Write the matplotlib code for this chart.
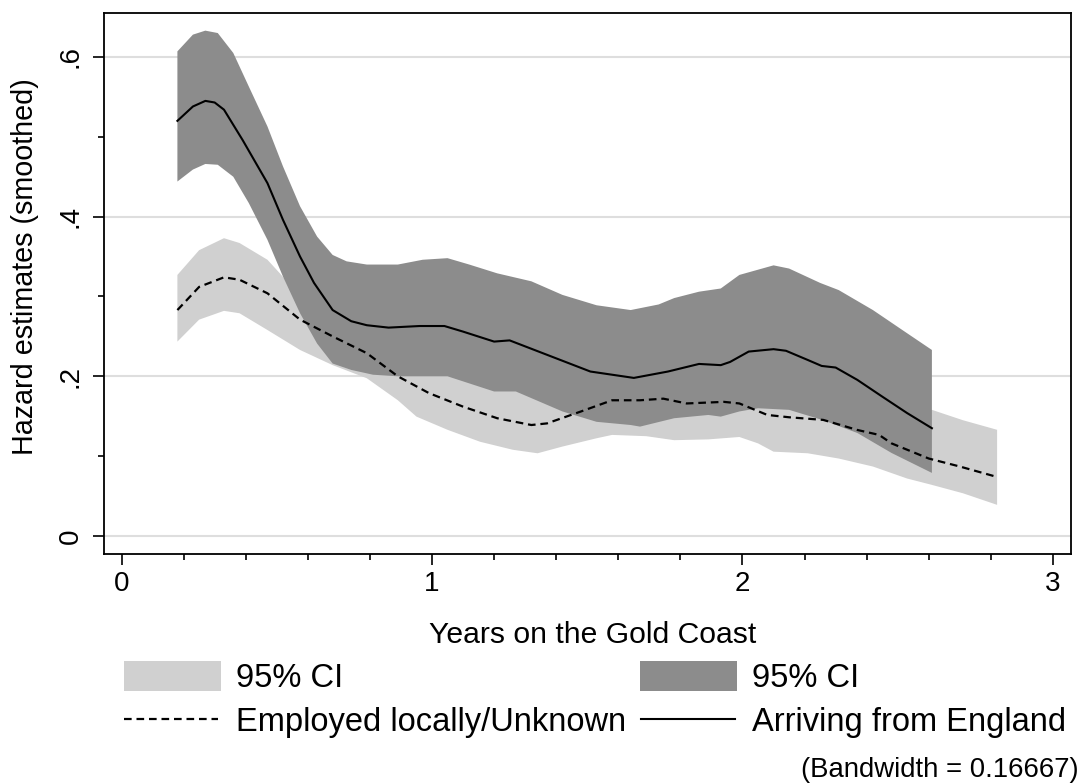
import numpy as np
import matplotlib
matplotlib.use("Agg")
import matplotlib.pyplot as plt
from matplotlib.patches import Rectangle
from matplotlib.lines import Line2D

# ---- smoothed hazard estimates -------------------------------------------
# Arriving from England: estimate and 95% CI
eng_x = [0.18, 0.23, 0.27, 0.30, 0.33, 0.39, 0.47, 0.52, 0.575, 0.62, 0.68, 0.74,
         0.79, 0.86, 0.96, 1.04, 1.10, 1.20, 1.25, 1.37, 1.51, 1.65, 1.76, 1.86,
         1.93, 1.96, 2.02, 2.10, 2.14, 2.21, 2.255, 2.30, 2.37, 2.45, 2.53, 2.61]
eng_y = [0.520, 0.538, 0.545, 0.543, 0.534, 0.496, 0.442, 0.396, 0.350, 0.317, 0.283, 0.269,
         0.264, 0.261, 0.263, 0.263, 0.256, 0.2435, 0.245, 0.227, 0.206, 0.198, 0.206, 0.2155,
         0.214, 0.218, 0.231, 0.234, 0.232, 0.2205, 0.213, 0.211, 0.1955, 0.1746, 0.154, 0.135]

eng_hi_x = [0.18, 0.23, 0.27, 0.31, 0.36, 0.41, 0.47, 0.52, 0.575, 0.63, 0.68, 0.725,
            0.79, 0.89, 0.97, 1.05, 1.12, 1.21, 1.32, 1.42, 1.53, 1.64, 1.73, 1.78,
            1.86, 1.93, 1.99, 2.10, 2.15, 2.25, 2.31, 2.42, 2.53, 2.61]
eng_hi_y = [0.607, 0.628, 0.633, 0.630, 0.605, 0.563, 0.513, 0.463, 0.413, 0.375, 0.352, 0.344,
            0.340, 0.340, 0.346, 0.348, 0.340, 0.329, 0.319, 0.302, 0.289, 0.283, 0.290, 0.298,
            0.306, 0.310, 0.327, 0.339, 0.335, 0.317, 0.308, 0.283, 0.254, 0.233]

eng_lo_x = [0.18, 0.23, 0.27, 0.31, 0.36, 0.41, 0.47, 0.52, 0.575, 0.63, 0.68, 0.74,
            0.81, 0.89, 1.05, 1.20, 1.27, 1.42, 1.53, 1.64, 1.67, 1.78, 1.89, 1.93,
            1.99, 2.05, 2.15, 2.26, 2.37, 2.48, 2.61]
eng_lo_y = [0.444, 0.459, 0.466, 0.465, 0.450, 0.417, 0.371, 0.325, 0.279, 0.241, 0.216, 0.208,
            0.202, 0.200, 0.200, 0.181, 0.181, 0.156, 0.143, 0.139, 0.137, 0.1475, 0.1516, 0.1495,
            0.156, 0.160, 0.158, 0.145, 0.129, 0.104, 0.079]

# Employed locally / Unknown: estimate and 95% CI
loc_x = [0.18, 0.25, 0.33, 0.38, 0.47, 0.575, 0.68, 0.79, 0.89, 0.99, 1.10, 1.21,
         1.32, 1.37, 1.48, 1.58, 1.67, 1.745, 1.82, 1.94, 1.99, 2.08, 2.15, 2.26,
         2.37, 2.44, 2.48, 2.60, 2.70, 2.81]
loc_y = [0.283, 0.312, 0.324, 0.321, 0.304, 0.271, 0.250, 0.229, 0.200, 0.179, 0.162, 0.1475,
         0.139, 0.141, 0.156, 0.170, 0.170, 0.172, 0.166, 0.168, 0.166, 0.1516, 0.1487, 0.1454,
         0.1328, 0.1266, 0.116, 0.097, 0.087, 0.075]

loc_hi_x = [0.18, 0.25, 0.33, 0.38, 0.47, 0.51, 0.575, 0.68, 0.79, 0.89, 0.99, 1.10,
            1.21, 1.32, 1.48, 1.58, 1.67, 1.82, 1.99, 2.15, 2.30, 2.45, 2.61, 2.71, 2.82]
loc_hi_y = [0.327, 0.358, 0.373, 0.367, 0.346, 0.329, 0.300, 0.275, 0.255, 0.235, 0.215, 0.200,
            0.190, 0.180, 0.190, 0.200, 0.205, 0.205, 0.210, 0.200, 0.190, 0.175, 0.158, 0.145, 0.133]

loc_lo_x = [0.18, 0.25, 0.33, 0.38, 0.47, 0.575, 0.68, 0.79, 0.89, 0.95, 1.05, 1.155,
            1.26, 1.34, 1.42, 1.53, 1.58, 1.69, 1.78, 1.89, 1.99, 2.05, 2.10, 2.21,
            2.31, 2.42, 2.53, 2.61, 2.71, 2.82]
loc_lo_y = [0.2435, 0.271, 0.282, 0.279, 0.258, 0.233, 0.214, 0.1976, 0.170, 0.1495, 0.133, 0.118,
            0.108, 0.1036, 0.112, 0.1224, 0.1266, 0.125, 0.120, 0.121, 0.124, 0.116, 0.1056, 0.1036,
            0.097, 0.087, 0.072, 0.064, 0.0535, 0.039]

x_ticks = [0, 1, 2, 3]
x_tick_labels = ["0", "1", "2", "3"]
y_ticks = [0, 0.2, 0.4, 0.6]
y_tick_labels = ["0", ".2", ".4", ".6"]

legend_labels = ["95% CI", "95% CI", "Employed locally/Unknown", "Arriving from England"]
note_text = "(Bandwidth = 0.16667)"

# ---- styling ----------------------------------------------------------------
plt.rcParams["font.family"] = ["Liberation Sans", "DejaVu Sans"]
plt.rcParams["lines.scale_dashes"] = False

LIGHT = "#d0d0d0"
DARK = "#8c8c8c"
GRID = "#dedede"
FS_TICK = 20
FS_XTITLE = 21.7
FS_YTITLE = 20.7
FS_LEG = 23.5
FS_NOTE = 19.8

W, H = 1087, 784
fig = plt.figure(figsize=(W / 100, H / 100), dpi=100)


def fx(px):
    return px / W


def fy(py):
    return 1 - py / H


left, right, top, bottom = 104, 1071, 13, 553.7
ax = fig.add_axes([fx(left), fy(bottom), fx(right - left), (bottom - top) / H])

# bands
ax.fill(np.r_[loc_hi_x, loc_lo_x[::-1]], np.r_[loc_hi_y, loc_lo_y[::-1]],
        color=LIGHT, lw=0, zorder=1)
ax.fill(np.r_[eng_hi_x, eng_lo_x[::-1]], np.r_[eng_hi_y, eng_lo_y[::-1]],
        color=DARK, lw=0, zorder=2)

# point estimates
dash_style = (0, (5.5, 3.5))
ax.plot(loc_x, loc_y, color="black", lw=1.6, linestyle=dash_style, zorder=3)
ax.plot(eng_x, eng_y, color="black", lw=1.5, zorder=4)

ax.set_xlim(-0.0564, 3.058)
ax.set_ylim(-0.0222, 0.6551)

for yv in y_ticks:
    ax.axhline(yv, color=GRID, lw=1.5, zorder=0)

ax.set_xticks(x_ticks, x_tick_labels)
ax.set_xticks(np.arange(0, 3.01, 0.2), minor=True)
ax.set_yticks(y_ticks, y_tick_labels)
ax.set_yticks([0.1, 0.3, 0.5], minor=True)

ax.tick_params(axis="both", which="major", length=8, width=1.2, labelsize=FS_TICK, color="black")
ax.tick_params(axis="both", which="minor", length=4, width=1.2, color="black")
ax.tick_params(axis="x", which="major", pad=4.5)
ax.tick_params(axis="y", which="major", pad=10.8)

for lbl in ax.get_yticklabels():
    lbl.set_rotation(90)
    lbl.set_rotation_mode("anchor")
    lbl.set_ha("center")
    lbl.set_va("baseline")

for sp in ax.spines.values():
    sp.set_linewidth(1.3)
    sp.set_color("black")

# axis titles
fig.text(fx(593), fy(643), "Years on the Gold Coast", fontsize=FS_XTITLE,
         ha="center", va="baseline")
fig.text(fx(33), fy(267), "Hazard estimates (smoothed)", fontsize=FS_YTITLE,
         rotation=90, rotation_mode="anchor", ha="center", va="baseline")

# legend
fig.add_artist(Rectangle((fx(124), fy(691)), fx(97), 30 / H, color=LIGHT, lw=0))
fig.add_artist(Rectangle((fx(640), fy(691)), fx(97), 30 / H, color=DARK, lw=0))
fig.add_artist(Line2D([fx(124), fx(218)], [fy(719), fy(719)], color="black",
                      lw=1.6, linestyle=dash_style))
fig.add_artist(Line2D([fx(641), fx(735)], [fy(719), fy(719)], color="black", lw=1.5))
fig.text(fx(236), fy(687), legend_labels[0], fontsize=FS_LEG, ha="left", va="baseline")
fig.text(fx(752), fy(687), legend_labels[1], fontsize=FS_LEG, ha="left", va="baseline")
fig.text(fx(236), fy(731), legend_labels[2], fontsize=FS_LEG, ha="left", va="baseline")
fig.text(fx(752), fy(731), legend_labels[3], fontsize=FS_LEG, ha="left", va="baseline")

fig.text(fx(1079), fy(777), note_text, fontsize=FS_NOTE, ha="right", va="baseline")

fig.savefig("out.png", dpi=100, facecolor="white")
